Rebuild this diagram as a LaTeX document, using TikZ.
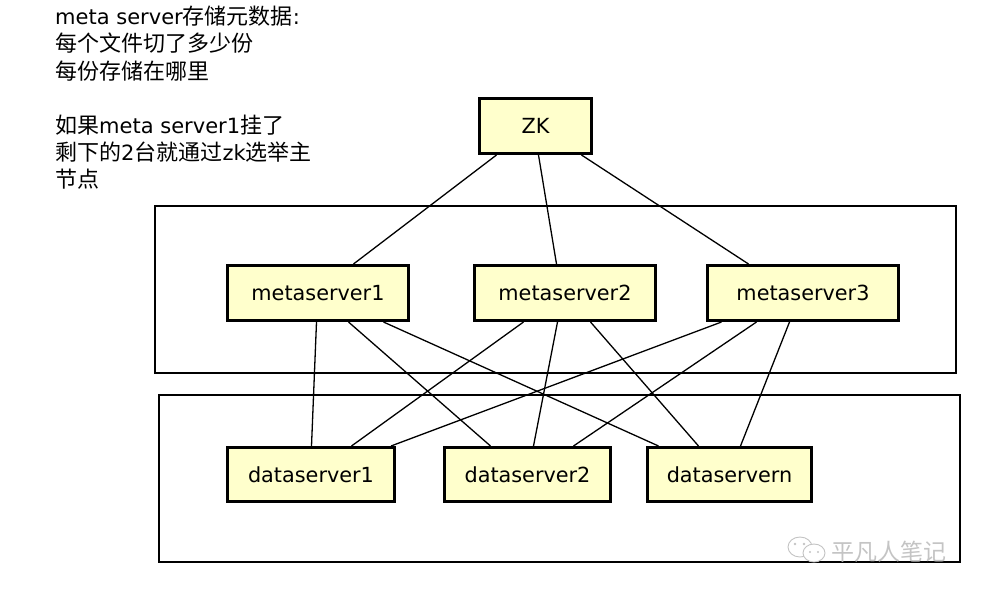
\documentclass[tikz,border=0pt]{standalone}
\usepackage{fontspec}
\setmainfont{DejaVu Sans}
\newfontfamily\cjkfam{Noto Sans CJK SC}
\newcommand{\cjk}{\cjkfam\fontsize{22}{27}\selectfont}
\definecolor{boxfill}{HTML}{FFFFCC}
\definecolor{wm}{HTML}{C4C4C4}
\tikzset{
  srv/.style={draw=black, line width=3pt, fill=boxfill, minimum height=55pt, inner sep=0pt,
    font=\fontsize{20.8}{24}\selectfont},
  group/.style={draw=black, line width=1.8pt},
  link/.style={draw=black, line width=1.3pt},
  note/.style={anchor=base west, inner sep=0pt, font=\fontsize{21}{27}\selectfont},
}
\begin{document}
\begin{tikzpicture}[x=1pt, y=-1pt]
\useasboundingbox[fill=white] (0,0) rectangle (1006,602);

% note text
\node[note] (t1) at (55,25) {meta server{\cjk 存储元数据}:};
\node[note] (t2) at (55,52) {\cjk 每个文件切了多少份};
\node[note] (t3) at (55,79) {\cjk 每份存储在哪里};
\node[note] (t4) at (55,133) {{\cjk 如果}meta server1{\cjk 挂了}};
\node[note] (t5) at (55,160) {{\cjk 剩下的}2{\cjk 台就通过}zk{\cjk 选举主}};
\node[note] (t6) at (55,187) {\cjk 节点};

% groups
\draw[group] (155,206) rectangle (956,373);
\draw[group] (159,395) rectangle (960,562);

% nodes
\node[srv, minimum width=112pt] (zk) at (535.5,126) {ZK};
\node[srv, minimum width=181pt] (ms1) at (318,293) {metaserver1};
\node[srv, minimum width=181pt] (ms2) at (565,293) {metaserver2};
\node[srv, minimum width=191pt] (ms3) at (803,293) {metaserver3};
\node[srv, minimum width=167pt, minimum height=54pt] (ds1) at (311,474.5) {dataserver1};
\node[srv, minimum width=166pt, minimum height=54pt] (ds2) at (527.5,474.5) {dataserver2};
\node[srv, minimum width=164pt, minimum height=54pt] (dsn) at (729.5,474.5) {dataservern};

% connectors
\draw[link] ([xshift=18.5pt]zk.south west) -- ([xshift=127.5pt]ms1.north west);
\draw[link] ([xshift=60.5pt]zk.south west) -- ([xshift=83.5pt]ms2.north west);
\draw[link] ([xshift=103.5pt]zk.south west) -- ([xshift=42.5pt]ms3.north west);

\draw[link] ([xshift=90.5pt]ms1.south west) -- ([xshift=85.5pt]ds1.north west);
\draw[link] ([xshift=122.5pt]ms1.south west) -- ([xshift=47.5pt]ds2.north west);
\draw[link] ([xshift=157.5pt]ms1.south west) -- ([xshift=12.5pt]dsn.north west);

\draw[link] ([xshift=50.5pt]ms2.south west) -- ([xshift=125.5pt]ds1.north west);
\draw[link] ([xshift=84.5pt]ms2.south west) -- ([xshift=90.5pt]ds2.north west);
\draw[link] ([xshift=117.5pt]ms2.south west) -- ([xshift=52.5pt]dsn.north west);

\draw[link] ([xshift=15.5pt]ms3.south west) -- ([xshift=165pt]ds1.north west);
\draw[link] ([xshift=50.5pt]ms3.south west) -- ([xshift=130.5pt]ds2.north west);
\draw[link] ([xshift=83.5pt]ms3.south west) -- ([xshift=94.5pt]dsn.north west);

% watermark
\begin{scope}[draw=wm, line width=0.9pt]
\draw (800,547) ellipse [x radius=12pt, y radius=10pt];
\draw[fill=white] (814,553) ellipse [x radius=11pt, y radius=9pt];
\fill[wm] (795,544) circle (1.3pt) (804,544) circle (1.3pt);
\fill[wm] (810,552) circle (1.1pt) (818,552) circle (1.1pt);
\end{scope}
\node[anchor=west, inner sep=0pt, text=wm, font=\cjkfam\fontsize{23}{24}\selectfont] (wmt) at (831,552) {平凡人笔记};
\end{tikzpicture}
\end{document}
